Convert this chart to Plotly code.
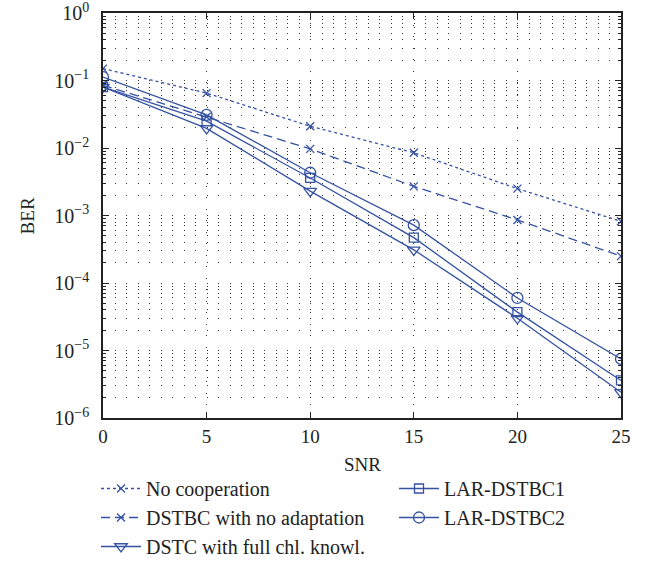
import plotly.graph_objects as go

snr = [0, 5, 10, 15, 20, 25]
no_coop = [0.15, 0.065, 0.021, 0.0085, 0.0025, 0.00082]
dstbc_no_adapt = [0.085, 0.029, 0.0097, 0.0027, 0.00086, 0.00025]
dstc_full = [0.08, 0.0195, 0.0023, 0.00031, 0.00003, 0.0000024]
lar1 = [0.08, 0.025, 0.0036, 0.00047, 0.000037, 0.0000036]
lar2 = [0.112, 0.031, 0.0043, 0.00072, 0.00006, 0.0000075]

ytick_vals = [1, 0.1, 0.01, 0.001, 1e-4, 1e-5, 1e-6]
ytick_text = ["10<sup>0</sup>", "10<sup>−1</sup>", "10<sup>−2</sup>", "10<sup>−3</sup>",
              "10<sup>−4</sup>", "10<sup>−5</sup>", "10<sup>−6</sup>"]
xtick_vals = [0, 5, 10, 15, 20, 25]

C = "#3552a3"
LW = 1.3
FONT = "Liberation Serif"
W, H = 656, 586

fig = go.Figure()

def add(name, y, dash, symbol, size, legend):
    fig.add_trace(go.Scatter(
        x=snr, y=y, name=name, mode="lines+markers",
        line=dict(color=C, width=LW, dash=dash),
        marker=dict(symbol=symbol, size=size, color=C,
                    line=dict(color=C, width=1.3)),
        legend=legend,
    ))

add("No cooperation", no_coop, "dot", "x-thin", 8, "legend")
add("DSTBC with no adaptation", dstbc_no_adapt, "9px,5px", "x-thin", 8, "legend")
add("DSTC with full chl. knowl.", dstc_full, "solid", "triangle-down-open", 11, "legend")
add("LAR-DSTBC1", lar1, "solid", "square-open", 9, "legend2")
add("LAR-DSTBC2", lar2, "solid", "circle-open", 11, "legend2")

grid_dash = "1px,10.5px"
leg_common = dict(xref="container", yref="container", xanchor="left", yanchor="top",
                  orientation="v", font=dict(size=20, family=FONT, color="#222"),
                  bgcolor="rgba(0,0,0,0)", itemwidth=40, tracegroupgap=0)
fig.update_layout(
    width=W, height=H,
    margin=dict(l=103, r=35, t=13, b=168, autoexpand=False),
    paper_bgcolor="white", plot_bgcolor="white",
    font=dict(family=FONT, size=17, color="#222"),
    showlegend=True,
    legend=dict(x=96 / W, y=1 - 469 / H, **leg_common),
    legend2=dict(x=394 / W, y=1 - 469 / H, **leg_common),
    xaxis=dict(
        range=[0, 25], tickvals=xtick_vals, ticks="inside", ticklen=6,
        tickcolor="#222", showline=True, linecolor="#222", linewidth=1.5,
        mirror="ticks", showgrid=True, gridcolor="#333", gridwidth=1,
        griddash=grid_dash, zeroline=False,
        tickfont=dict(size=19, family=FONT),
    ),
    yaxis=dict(
        type="log", range=[-6, 0], tickvals=ytick_vals, ticktext=ytick_text,
        ticks="inside", ticklen=6, tickcolor="#222", showline=True,
        linecolor="#222", linewidth=1.5, mirror="ticks",
        showgrid=True, gridcolor="#333", gridwidth=1, griddash=grid_dash,
        zeroline=False, ticklabeloverflow="allow", ticklabelstandoff=8,
        minor=dict(ticks="inside", ticklen=3, tickcolor="#222", showgrid=True,
                   gridcolor="#333", gridwidth=1, griddash=grid_dash,
                   dtick="D1"),
        tickfont=dict(size=20, family=FONT),
    ),
    annotations=[
        dict(text="SNR", xref="paper", yref="paper", x=0.5, y=-0.115,
             xanchor="center", yanchor="middle", showarrow=False,
             font=dict(size=19, family=FONT, color="#222")),
        dict(text="BER", xref="paper", yref="paper", x=-0.145, y=0.5,
             xanchor="center", yanchor="middle", showarrow=False, textangle=-90,
             font=dict(size=19, family=FONT, color="#222")),
    ],
)

fig.write_html("out.html", config={"displayModeBar": False},
               post_script="document.body.style.margin='0';document.body.style.padding='0';")
